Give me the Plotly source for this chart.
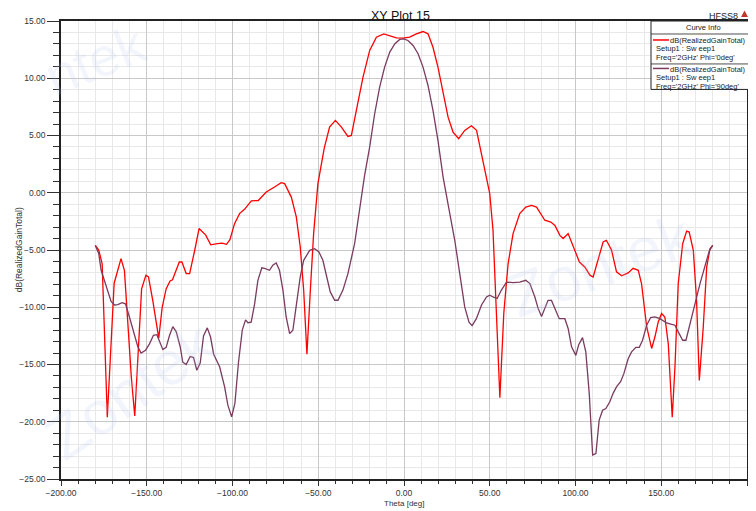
import plotly.graph_objects as go

theta_phi0 = [-180, -178, -176, -173, -169, -165, -163, -159, -157, -153, -150.5, -149, -146.5,
              -144.5, -143, -141, -138.7, -136.4, -135, -131, -129.5, -127, -125, -122, -119.5,
              -115.6, -112.7, -108.8, -106, -103.5, -101.5, -98.8, -95.9, -93, -89, -85, -80.3,
              -75.5, -71.6, -69.6, -65.7, -62.8, -60.5, -58.5, -56.6, -54.6, -52.7, -50.2, -46.5,
              -43.4, -40, -36.5, -32.7, -30.7, -27.8, -23.9, -20, -16.1, -11.8, -8.3, -4.4, -0.6,
              3.3, 7.2, 11.1, 14, 16.9, 19.8, 22.8, 25.7, 28.6, 31.9, 35.4, 39.3, 42.3, 45.2, 48.1,
              50, 51.9, 53.9, 55.9, 58.2, 60.7, 63.6, 67.5, 71, 74.4, 77.3, 82.1, 85.6, 88, 90.9,
              92.8, 95.7, 98.6, 102.3, 105.5, 108.4, 110.3, 113.2, 116.1, 118, 121, 123.9, 126.9,
              130.7, 133.6, 136.6, 138.5, 141.5, 144.4, 146.3, 148.2, 150.2, 152.1, 154.1, 156.4,
              158, 159.9, 162.5, 164.8, 166.3, 168.7, 170.6, 172.2, 174.5, 176.5, 178.4, 180]
gain_phi0 = [-4.6, -5.0, -6.2, -19.6, -7.9, -5.75, -6.8, -16.1, -19.5, -8.4, -7.2, -7.35, -9.4,
             -11.3, -12.7, -10.0, -8.4, -7.7, -7.6, -6.05, -6.05, -7.06, -7.06, -5.0, -3.13,
             -3.7, -4.55, -4.45, -4.4, -4.5, -4.1, -2.7, -1.82, -1.45, -0.7, -0.68, 0.06,
             0.5, 0.88, 0.8, -0.38, -2.1, -4.74, -8.5, -14.1, -8.5, -3.57, 0.79, 3.9,
             5.73, 6.32, 5.73, 4.92, 5.0, 7.2, 10.1, 12.43, 13.59, 13.88, 13.73, 13.53, 13.5,
             13.59, 13.88, 14.08, 13.88, 12.71, 10.97, 8.65, 6.6, 5.3, 4.72, 5.45, 5.85, 5.45, 3.4, 1.2,
             -0.08, -3.28, -9.97, -17.9, -10.5, -6.2, -3.57, -1.82, -1.25, -1.1, -1.25, -2.4, -2.56, -2.85, -3.72,
             -4.0, -3.57, -4.6, -6.05, -6.5, -7.2, -7.36, -5.75, -4.3, -4.15, -5.0, -6.9, -7.25,
             -7.0, -6.6, -6.77, -7.93, -11.7, -13.6, -12.6, -11.3, -10.55, -10.85, -13.2, -19.6,
             -15.2, -7.93, -4.45, -3.35, -3.43, -5.03, -9.4, -16.4, -11.7, -6.5, -4.9, -4.6]

theta_phi90 = [-180, -178, -176.6, -173.7, -170.8, -168.8, -166.9, -164.4, -162.4, -160.1, -157.2,
               -155.2, -153.3, -150.7, -148.4, -146.1, -144.1, -142.6, -140.6, -138.7, -136.7,
               -134.8, -132.8, -130.5, -129, -127, -124.7, -122.7, -120.8, -118.8, -116.9, -114.7,
               -112.8, -111, -107.5, -104.6, -102.7, -100.5, -98.6, -96.5, -94.3, -92.4, -91, -89.1,
               -87.1, -85.2, -82.9, -81.3, -78.4, -76.5, -74.5, -72.6, -70.6, -68.7, -66.7, -64.8,
               -62.8, -60.5, -58.5, -55, -52.1, -49.6, -47.3, -45.3, -43, -40.4, -38.5, -35.6, -32.7,
               -28.8, -25.9, -23, -20, -17.1, -14.2, -11.3, -8.3, -5.4, -2.5, -0.2, 2.3, 5.3, 8.2,
               11.1, 14, 16.9, 19.8, 22.8, 26.7, 29.6, 32.5, 35.4, 37.9, 39.7, 42.2, 45.2, 48.1, 50,
               51.9, 54.3, 56.8, 59.8, 63.6, 67.5, 71, 73.4, 76.3, 78.2, 80.2, 82.1, 84, 86, 88, 90.5,
               93.8, 95.7, 97.7, 100.2, 101.8, 104.1, 106, 108, 110, 111.9, 113.8, 115.8, 117.7, 120,
               122, 123.9, 126.3, 128.2, 130.7, 132.7, 135.2, 137.2, 139.1, 141.5, 143.8, 146.3,
               149.2, 153.1, 156.1, 158, 159.9, 162.5, 164.4, 166.7, 169.7, 172.6, 175.5, 178, 180]
gain_phi90 = [-4.6, -5.3, -6.77, -8.2, -9.5, -9.8, -9.77, -9.6, -9.7, -10.85, -12.3,
              -13.45, -14.0, -13.75, -13.2, -12.45, -12.4, -12.9, -13.7, -13.5, -12.45,
              -11.7, -12.15, -13.45, -14.8, -15.0, -14.3, -14.4, -15.5, -14.85, -12.5, -11.8,
              -12.6, -14.1, -15.2, -16.95, -18.55, -19.57, -18.4, -14.8, -12.0, -11.1, -11.35, -11.3,
              -9.7, -7.65, -6.55, -6.6, -6.77, -6.33, -6.13, -6.77, -8.5, -10.85, -12.3, -12.0,
              -9.97, -7.35, -5.9, -5.03, -4.88, -5.17, -5.9, -7.2, -8.66, -9.39, -9.39, -8.5, -7.06,
              -4.45, -1.54, 1.5, 4.0, 6.9, 9.22, 10.97, 12.28, 13.0, 13.39, 13.44, 13.3, 12.86, 12.14,
              10.97, 9.37, 7.2, 4.57, 1.37, -1.82, -4.15, -7.06, -9.97, -11.3, -11.6, -11.0, -9.8, -9.1, -8.95,
              -9.1, -9.24, -8.5, -7.8, -7.85, -7.8, -7.65, -7.93, -9.1, -10.1, -10.8, -10.1, -9.4, -9.4, -10.1, -11.0,
              -11.0, -11.85, -13.45, -14.2, -13.3, -12.65, -13.9, -17.5, -22.9, -22.77, -19.86, -19.0, -18.84, -18.26,
              -17.5, -16.95, -16.5, -15.8, -14.5, -13.9, -13.5, -13.5, -12.88, -11.57, -10.9, -10.85,
              -11.0, -11.37, -11.5, -11.57, -12.15, -12.88, -12.88, -11.4, -9.68, -7.93, -6.48, -5.08, -4.6]

RED = "#ff0000"
PURPLE = "#7a3b5f"
FONT = "Liberation Sans, Arial, sans-serif"

# window size and page offset (default body margin of the html page)
W, H = 756, 511
OFF = 8
# plot-area edges in window pixels
L, R, T, B = 61, 747, 20.5, 479


def px(x):
    return (x - L) / (R - L)


def py(y):
    return (B - y) / (B - T)


fig = go.Figure()
fig.add_trace(go.Scatter(x=theta_phi0, y=gain_phi0, mode="lines",
                         line=dict(color=RED, width=1.3), showlegend=False))
fig.add_trace(go.Scatter(x=theta_phi90, y=gain_phi90, mode="lines",
                         line=dict(color=PURPLE, width=1.3), showlegend=False))

axis_common = dict(
    showline=True, linecolor="#222222", linewidth=1.5, mirror=True, automargin=False,
    ticks="outside", tickcolor="#333333", tickformat=".2f",
    tickfont=dict(family=FONT, size=8.5, color="#333333"),
    showgrid=True, gridcolor="#c8c8c8", gridwidth=1, zeroline=False,
)
fig.update_xaxes(range=[-200, 200], dtick=50, tick0=-200, ticklen=5,
                 minor=dict(dtick=10, ticklen=3, tickcolor="#333333", showgrid=True,
                            gridcolor="#e8e8e8", gridwidth=1),
                 **axis_common)
fig.update_yaxes(range=[-25, 15], dtick=5, tick0=-25, ticklen=12,
                 minor=dict(dtick=1, ticklen=6, tickcolor="#333333", showgrid=True,
                            gridcolor="#e8e8e8", gridwidth=1),
                 **axis_common)

annotations = []
# faint watermark
for txt, x, y, ang, sz in [("ntek", 95, 60, -22, 54), ("Zontek", 130, 390, -35, 62),
                           ("Zontek", 600, 265, -20, 62)]:
    annotations.append(dict(text=txt, x=px(x), y=py(y), xref="paper", yref="paper", showarrow=False,
                            xanchor="center", yanchor="middle", textangle=ang,
                            font=dict(family=FONT, size=sz, color="rgba(175,200,235,0.16)")))
# axis titles
annotations.append(dict(text="Theta [deg]", x=px(404), y=py(503.5), xref="paper", yref="paper",
                        xanchor="center", yanchor="middle", showarrow=False,
                        font=dict(family=FONT, size=8, color="#333333")))
annotations.append(dict(text="dB(RealizedGainTotal)", x=px(19), y=py(250), xref="paper", yref="paper",
                        xanchor="center", yanchor="middle", showarrow=False, textangle=-90,
                        font=dict(family=FONT, size=8.5, color="#333333")))
# title
annotations.append(dict(text="XY Plot 15", x=px(400), y=py(15), xref="paper", yref="paper",
                        xanchor="center", yanchor="middle",
                        showarrow=False, font=dict(family=FONT, size=12.5, color="#111111")))
annotations.append(dict(text="HFSS8", x=px(723), y=py(15), xref="paper", yref="paper",
                        xanchor="center", yanchor="middle",
                        showarrow=False, font=dict(family=FONT, size=9, color="#222222")))
# legend texts
leg = [("Curve Info", 703, 27, "center"),
       ("dB(RealizedGainTotal)", 708, 40, "center"),
       ("Setup1 : Sw eep1", 654, 48.5, "left"),
       ("Freq='2GHz' Phi='0deg'", 654, 57, "left"),
       ("dB(RealizedGainTotal)", 708, 69, "center"),
       ("Setup1 : Sw eep1", 654, 77.5, "left"),
       ("Freq='2GHz' Phi='90deg'", 654, 86, "left")]
for txt, x, y, anc in leg:
    annotations.append(dict(text=txt, x=px(x), y=py(y), xref="paper", yref="paper", showarrow=False,
                            xanchor=anc, yanchor="middle",
                            font=dict(family=FONT, size=7.5, color="#222222")))

shapes = [
    dict(type="rect", xref="paper", yref="paper", x0=px(651), x1=px(770), y0=py(89), y1=py(20.5),
         line=dict(color="#222222", width=1), fillcolor="white", layer="above"),
    dict(type="line", xref="paper", yref="paper", x0=px(651), x1=px(770), y0=py(33.5), y1=py(33.5),
         line=dict(color="#222222", width=0.8), layer="above"),
    dict(type="line", xref="paper", yref="paper", x0=px(651), x1=px(770), y0=py(63.5), y1=py(63.5),
         line=dict(color="#222222", width=0.8), layer="above"),
    dict(type="line", xref="paper", yref="paper", x0=px(653), x1=px(669), y0=py(39.5), y1=py(39.5),
         line=dict(color=RED, width=1.5), layer="above"),
    dict(type="line", xref="paper", yref="paper", x0=px(653), x1=px(669), y0=py(68), y1=py(68),
         line=dict(color=PURPLE, width=1.5), layer="above"),
    # small logo triangle
    dict(type="path", xref="paper", yref="paper",
         path=f"M {px(741)} {py(16.5)} L {px(748)} {py(16.5)} L {px(744.5)} {py(10)} Z",
         fillcolor="#c0392b", line=dict(width=0), layer="above"),
]

FW, FH = W - OFF, H - OFF
fig.update_layout(
    width=FW, height=FH,
    margin=dict(l=L - OFF, r=FW - (R - OFF), t=T - OFF, b=FH - (B - OFF), pad=0),
    paper_bgcolor="white", plot_bgcolor="white",
    font=dict(family=FONT),
    annotations=annotations, shapes=shapes,
    showlegend=False,
)

fig.write_html("out.html")
